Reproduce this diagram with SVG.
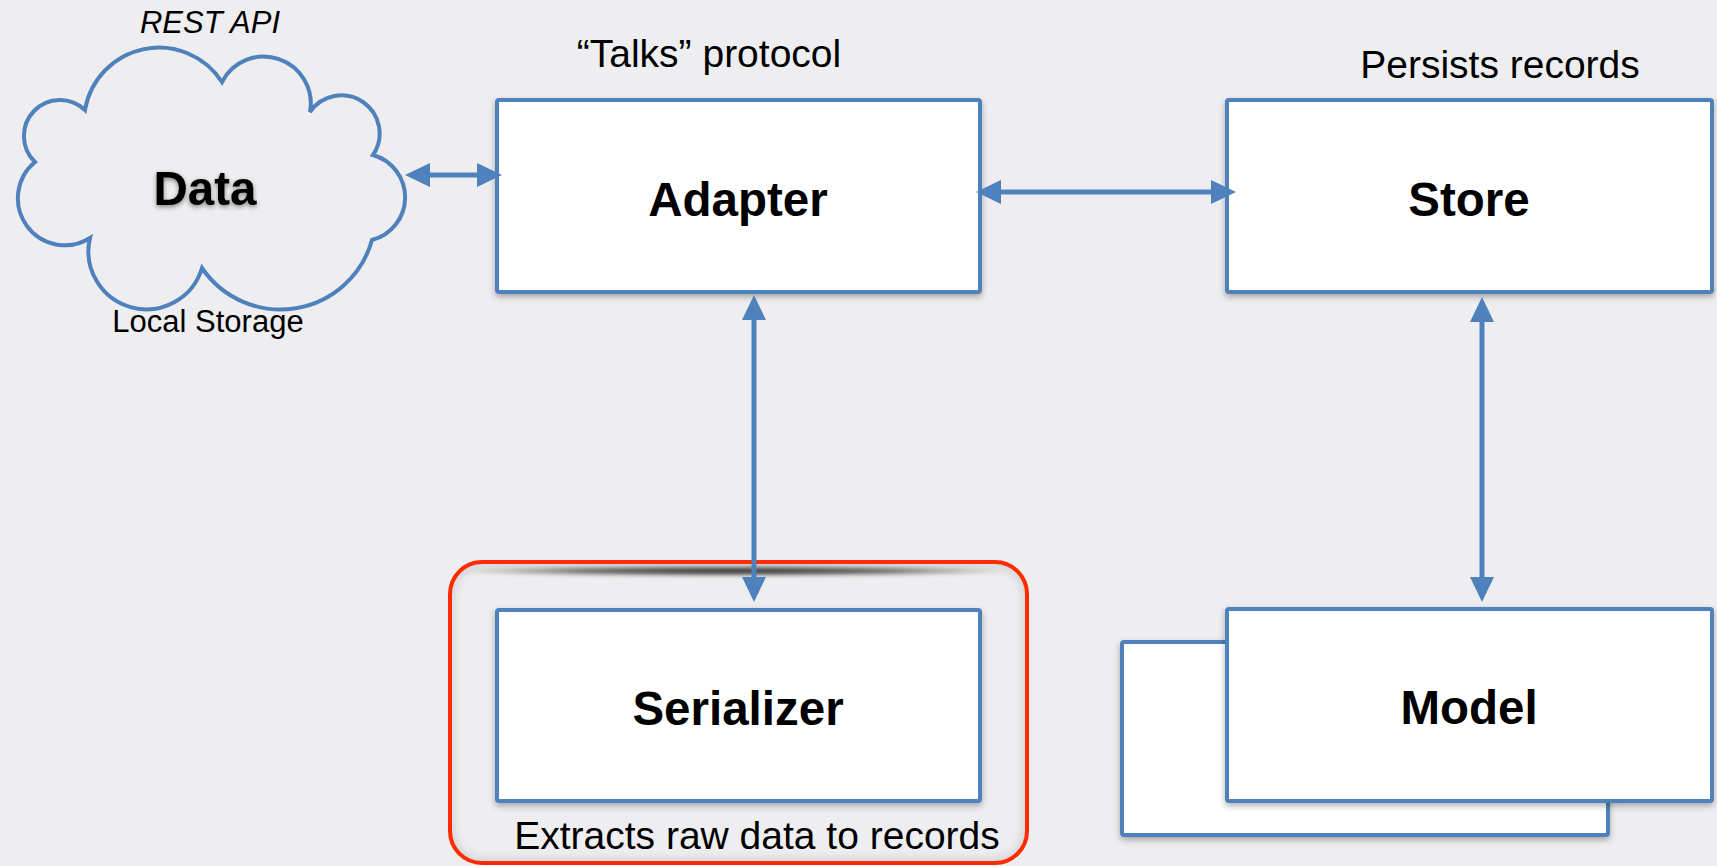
<svg xmlns="http://www.w3.org/2000/svg" width="1717" height="866" viewBox="0 0 1717 866">
  <style>
    .box { fill: #ffffff; stroke: #4f81bd; stroke-width: 4; }
    .lbl { font-family: "Liberation Sans", Arial, sans-serif; font-weight: bold; font-size: 47.5px; fill: #000; text-anchor: middle; }
    .note { font-family: "Liberation Sans", Arial, sans-serif; font-size: 39px; fill: #000; text-anchor: middle; }
    .small { font-family: "Liberation Sans", Arial, sans-serif; font-size: 31px; fill: #000; text-anchor: middle; }
    .conn { stroke: #4f81bd; stroke-width: 5; fill: none; marker-start: url(#ah); marker-end: url(#ah); }
  </style>
  <defs>
    <marker id="ah" viewBox="0 0 25 24" refX="0" refY="12" markerWidth="25" markerHeight="24" markerUnits="userSpaceOnUse" orient="auto-start-reverse">
      <path d="M0,0 L25,12 L0,24 z" fill="#4f81bd"/>
    </marker>
    <filter id="sh" x="-10%" y="-10%" width="120%" height="130%">
      <feDropShadow dx="0" dy="3" stdDeviation="3" flood-color="#000" flood-opacity="0.3"/>
    </filter>
    <filter id="tsh" x="-20%" y="-30%" width="140%" height="160%">
      <feDropShadow dx="0" dy="2" stdDeviation="2.5" flood-color="#000" flood-opacity="0.45"/>
    </filter>
    <filter id="blur2" x="-20%" y="-300%" width="140%" height="700%">
      <feGaussianBlur stdDeviation="2"/>
    </filter>
    <filter id="blur5" x="-10%" y="-10%" width="120%" height="120%">
      <feGaussianBlur stdDeviation="5"/>
    </filter>
    <radialGradient id="shg" cx="0.5" cy="0.5" r="0.5">
      <stop offset="0" stop-color="#000" stop-opacity="0.85"/>
      <stop offset="0.55" stop-color="#000" stop-opacity="0.6"/>
      <stop offset="1" stop-color="#000" stop-opacity="0"/>
    </radialGradient>
    <clipPath id="redclip">
      <rect x="450" y="562" width="577" height="301" rx="32"/>
    </clipPath>
  </defs>

  <rect x="0" y="0" width="1717" height="866" fill="#eeeef0"/>

  <g id="data">
    <path d="M85,110 A75,75 0 0 1 222,82 A47,47 0 0 1 310,112 A38,38 0 0 1 373,155 A44,44 0 0 1 372,240 A95,95 0 0 1 202,268 A58,58 0 0 1 90,238 A47,47 0 0 1 35,162 A36,36 0 0 1 85,110 Z" fill="#eeeef0" stroke="#4f81bd" stroke-width="4" stroke-linejoin="miter"/>
    <text x="205" y="205" class="lbl" font-size="45" filter="url(#tsh)">Data</text>
    <text x="210" y="33" class="small" font-style="italic">REST API</text>
    <text x="208" y="332" class="small">Local Storage</text>
  </g>

  <g id="serializer-group">
    <rect x="450" y="562" width="577" height="301" rx="32" fill="none" stroke="#555" stroke-width="8" opacity="0.2" filter="url(#blur5)" clip-path="url(#redclip)"/>
    <ellipse cx="735" cy="571" rx="280" ry="5" fill="url(#shg)" filter="url(#blur2)"/>
    <rect x="450" y="562" width="577" height="301" rx="32" fill="none" stroke="#ff2a00" stroke-width="4"/>
    <text x="757" y="849" class="note" font-size="40">Extracts raw data to records</text>
  </g>

  <g id="adapter">
    <rect x="497" y="100" width="483" height="192" rx="2" class="box" filter="url(#sh)"/>
    <text x="738" y="216" class="lbl">Adapter</text>
    <text x="709" y="67" class="note">“Talks” protocol</text>
  </g>

  <g id="store">
    <rect x="1227" y="100" width="485" height="192" rx="2" class="box" filter="url(#sh)"/>
    <text x="1469" y="216" class="lbl">Store</text>
    <text x="1500" y="78" class="note">Persists records</text>
  </g>

  <g id="serializer">
    <rect x="497" y="610" width="483" height="191" rx="2" class="box" filter="url(#sh)"/>
    <text x="738" y="725" class="lbl">Serializer</text>
  </g>

  <g id="model">
    <rect x="1122" y="642" width="486" height="193" rx="2" class="box" filter="url(#sh)"/>
    <rect x="1227" y="609" width="485" height="192" rx="2" class="box" filter="url(#sh)"/>
    <text x="1469" y="724" class="lbl">Model</text>
  </g>

  <g id="connectors">
    <path class="conn" d="M430,175 L477,175"/>
    <path class="conn" d="M1001,192 L1211,192"/>
    <path class="conn" d="M754,320 L754,577"/>
    <path class="conn" d="M1482,322 L1482,577"/>
  </g>
</svg>
